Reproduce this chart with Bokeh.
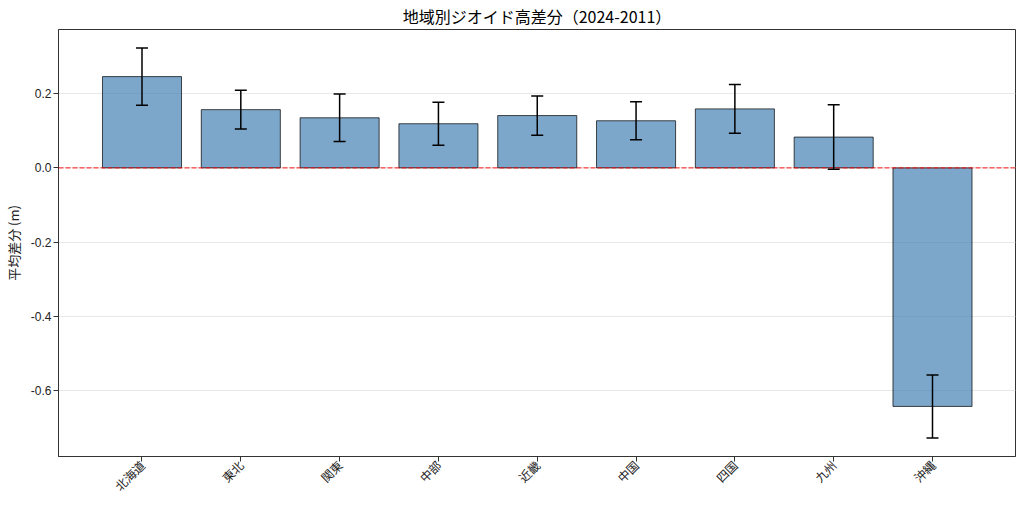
import math
from bokeh.plotting import figure
from bokeh.models import (ColumnDataSource, Range1d, FixedTicker, NumeralTickFormatter,
                          Whisker, TeeHead, Span)
from bokeh.embed import file_html
from bokeh.resources import INLINE

regions = ["北海道", "東北", "関東", "中部", "近畿", "中国", "四国", "九州", "沖縄"]
mean_diff = [0.246, 0.157, 0.135, 0.119, 0.141, 0.127, 0.159, 0.083, -0.643]
std_err = [0.077, 0.052, 0.064, 0.058, 0.053, 0.051, 0.066, 0.087, 0.085]
y_ticks = [-0.6, -0.4, -0.2, 0.0, 0.2]
title_text = "地域別ジオイド高差分（2024-2011）"
y_label = "平均差分 (m)"

xs = list(range(len(regions)))
src = ColumnDataSource(dict(
    x=xs, y=mean_diff,
    upper=[m + e for m, e in zip(mean_diff, std_err)],
    lower=[m - e for m, e in zip(mean_diff, std_err)],
))

p = figure(width=1016, height=502, output_backend="svg", toolbar_location=None,
           x_range=Range1d(-0.845, 8.84), y_range=Range1d(-0.778, 0.373),
           min_border_left=57, min_border_right=1, min_border_top=20, min_border_bottom=46)

p.title.text = title_text
p.title.align = "center"
p.title.text_font = "Noto Sans CJK JP"
p.title.text_font_size = "16px"
p.title.text_font_style = "normal"
p.title.text_color = "#000000"
p.title.standoff = 3

p.vbar(x="x", top="y", bottom=0, width=0.8, source=src,
       fill_color="steelblue", fill_alpha=0.7, line_color="black", line_alpha=0.7, line_width=1)

p.add_layout(Span(location=0, dimension="width", line_color="red", line_alpha=0.75,
                  line_width=1.2, line_dash="5 2", level="overlay"))

w = Whisker(base="x", upper="upper", lower="lower", source=src,
            line_color="black", line_width=1.5, level="overlay",
            upper_head=TeeHead(size=12, line_color="black", line_width=1.5),
            lower_head=TeeHead(size=12, line_color="black", line_width=1.5))
p.add_layout(w)

p.outline_line_color = "#333333"
p.outline_line_width = 1

p.xgrid.visible = False
p.ygrid.ticker = FixedTicker(ticks=y_ticks)
p.ygrid.grid_line_color = "#e8e8e8"
p.ygrid.grid_line_width = 1

p.xaxis.ticker = FixedTicker(ticks=xs)
p.xaxis.major_label_overrides = {i: r for i, r in enumerate(regions)}
p.xaxis.major_label_orientation = math.pi / 4
p.xaxis.major_label_text_font = "Noto Sans CJK JP"
p.xaxis.major_label_text_font_size = "12px"
p.xaxis.major_label_standoff = 1

p.yaxis.ticker = FixedTicker(ticks=y_ticks)
p.yaxis.formatter = NumeralTickFormatter(format="0.0")
p.yaxis.major_label_text_font = "Liberation Sans"
p.yaxis.major_label_text_font_size = "12px"
p.yaxis.major_label_standoff = 2
p.yaxis.axis_label = y_label
p.yaxis.axis_label_text_font = "Noto Sans CJK JP"
p.yaxis.axis_label_text_font_size = "13px"
p.yaxis.axis_label_text_font_style = "normal"
p.yaxis.axis_label_standoff = 5

for ax in (p.xaxis, p.yaxis):
    ax.axis_line_color = "#333333"
    ax.major_tick_line_color = "#333333"
    ax.major_tick_out = 5
    ax.major_tick_in = 0
    ax.minor_tick_line_color = None
    ax.major_label_text_color = "#222222"
    ax.axis_label_text_color = "#222222"

open("out.html", "w").write(file_html(p, INLINE))
